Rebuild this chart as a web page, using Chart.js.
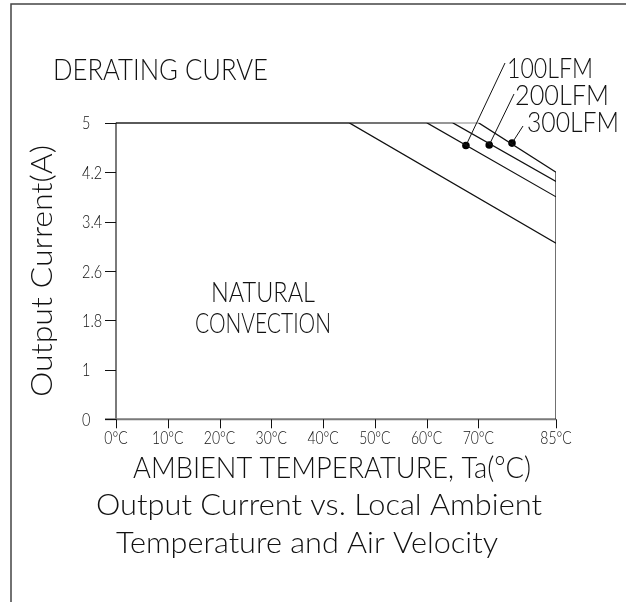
<!DOCTYPE html>
<html>
<head>
<meta charset="utf-8">
<script src="https://cdn.jsdelivr.net/npm/chart.js@4.4.0/dist/chart.umd.min.js"></script>
<style>
  html, body { margin: 0; padding: 0; background: #fff; }
  #wrap { width: 626px; height: 602px; }
</style>
</head>
<body>
<div id="wrap"><canvas id="chart" width="626" height="602"></canvas></div>
<script>
// axis ticks (the bottom tick sits at 0.2 but is labelled "0" in the drawing)
const tempTicks = [0, 10, 20, 30, 40, 50, 60, 70, 85];
const tempLabels = ['0°C', '10°C', '20°C', '30°C', '40°C', '50°C', '60°C', '70°C', '85°C'];
const currentTicks = [0.2, 1, 1.8, 2.6, 3.4, 4.2, 5];
const currentLabels = ['0', '1', '1.8', '2.6', '3.4', '4.2', '5'];

// derating curves: temperature (°C) / output current (A)
const naturalTemp = [0, 45, 85];
const naturalCurrent = [5, 5, 3.05];
const lfm100Temp = [0, 60, 85];
const lfm100Current = [5, 5, 3.8];
const lfm200Temp = [0, 65, 85];
const lfm200Current = [5, 5, 4.05];
const lfm300Temp = [0, 70, 85, 85];
const lfm300Current = [5, 5, 4.2, 0.2];

// label markers sitting on the forced-air curves
const markerTemp = [67.6, 72.1, 76.5];
const markerCurrent = [4.63, 4.64, 4.67];
const markerLabels = ['100LFM', '200LFM', '300LFM'];

const FONT = 'Lato, "Liberation Sans", sans-serif';

function pts(xs, ys) {
  return xs.map((x, i) => ({ x, y: ys[i] }));
}

function drawText(ctx, str, x, y, size, opts = {}) {
  ctx.save();
  ctx.font = `300 ${size}px ${FONT}`;
  const w = ctx.measureText(str).width;
  const sx = opts.width ? opts.width / w : (opts.sx || 1);
  ctx.translate(x, y);
  if (opts.rotate) ctx.rotate(opts.rotate);
  ctx.scale(sx, 1);
  ctx.textAlign = opts.align || 'left';
  ctx.textBaseline = 'alphabetic';
  ctx.fillStyle = '#111';
  ctx.fillText(str, 0, 0);
  ctx.restore();
}

const sheet = {
  id: 'sheet',
  beforeDatasetsDraw(chart) {
    const { ctx, scales: { x, y } } = chart;
    ctx.save();
    // page frame
    ctx.strokeStyle = '#444';
    ctx.lineWidth = 1.5;
    ctx.beginPath();
    ctx.moveTo(11, 602);
    ctx.lineTo(11, 4);
    ctx.lineTo(626, 4);
    ctx.stroke();

    const x0 = x.getPixelForValue(0);
    const yb = y.getPixelForValue(0.2);
    // axes
    ctx.strokeStyle = '#7a7a7a';
    ctx.lineWidth = 2;
    ctx.beginPath();
    ctx.moveTo(105, yb);
    ctx.lineTo(x.getPixelForValue(85), yb);
    ctx.moveTo(x0, y.getPixelForValue(5));
    ctx.lineTo(x0, yb);
    ctx.stroke();

    // ticks
    ctx.strokeStyle = '#111';
    ctx.lineWidth = 1;
    ctx.beginPath();
    tempTicks.forEach(t => {
      const px = Math.round(x.getPixelForValue(t)) + 0.5;
      ctx.moveTo(px, yb);
      ctx.lineTo(px, yb + 9);
    });
    currentTicks.forEach(v => {
      const py = Math.round(y.getPixelForValue(v)) + 0.5;
      ctx.moveTo(105, py);
      ctx.lineTo(x0, py);
    });
    ctx.stroke();
    ctx.restore();

    tempTicks.forEach((t, i) => {
      drawText(ctx, tempLabels[i], x.getPixelForValue(t), yb + 25, 17, { align: 'center', sx: 0.82 });
    });
    currentTicks.forEach((v, i) => {
      drawText(ctx, currentLabels[i], 82, y.getPixelForValue(v) + 6.5, 17, { sx: 0.85 });
    });
  },
  afterDatasetsDraw(chart) {
    const { ctx, scales: { x, y } } = chart;
    // leader lines from the markers up to their labels
    const anchors = [[505, 63], [514, 94], [523, 126]];
    const labelPos = [[507, 78, 86], [515, 105, 94], [527, 132, 92]];
    ctx.save();
    ctx.strokeStyle = '#111';
    ctx.lineWidth = 1;
    ctx.beginPath();
    markerTemp.forEach((t, i) => {
      ctx.moveTo(x.getPixelForValue(t), y.getPixelForValue(markerCurrent[i]));
      ctx.lineTo(anchors[i][0], anchors[i][1]);
    });
    ctx.stroke();
    ctx.restore();
    markerLabels.forEach((s, i) => {
      drawText(ctx, s, labelPos[i][0], labelPos[i][1], 28, { width: labelPos[i][2] });
    });

    drawText(ctx, 'DERATING CURVE', 53, 80, 29, { width: 215 });
    drawText(ctx, 'NATURAL', 263, 302, 28, { align: 'center', width: 104 });
    drawText(ctx, 'CONVECTION', 263, 333, 28, { align: 'center', width: 136 });
    drawText(ctx, 'Output Current(A)', 52, 271, 29, { align: 'center', width: 252, rotate: -Math.PI / 2 });
    drawText(ctx, 'AMBIENT TEMPERATURE, Ta(°C)', 332, 478, 29, { align: 'center', width: 398 });
    drawText(ctx, 'Output Current vs. Local Ambient', 319, 515, 29, { align: 'center', width: 446 });
    drawText(ctx, 'Temperature and Air Velocity', 307, 553, 29, { align: 'center', width: 382 });
  }
};

const lineStyle = { borderColor: '#111', borderWidth: 1.2, pointRadius: 0, fill: false, tension: 0 };

new Chart(document.getElementById('chart'), {
  type: 'line',
  data: {
    datasets: [
      { label: 'Natural convection', data: pts(naturalTemp, naturalCurrent), ...lineStyle },
      { label: '100LFM', data: pts(lfm100Temp, lfm100Current), ...lineStyle },
      { label: '200LFM', data: pts(lfm200Temp, lfm200Current), ...lineStyle },
      { label: '300LFM', data: pts(lfm300Temp, lfm300Current), ...lineStyle },
      {
        label: 'markers',
        data: pts(markerTemp, markerCurrent),
        showLine: false,
        pointRadius: 3.8,
        pointBackgroundColor: '#000',
        pointBorderColor: '#000',
        pointBorderWidth: 0
      }
    ]
  },
  options: {
    responsive: false,
    animation: false,
    layout: { padding: { left: 116, right: 70, top: 122.7, bottom: 182.7 } },
    scales: {
      x: { type: 'linear', min: 0, max: 85, display: false },
      y: { type: 'linear', min: 0.2, max: 5, display: false }
    },
    plugins: { legend: { display: false }, tooltip: { enabled: false } }
  },
  plugins: [sheet]
});
</script>
</body>
</html>
